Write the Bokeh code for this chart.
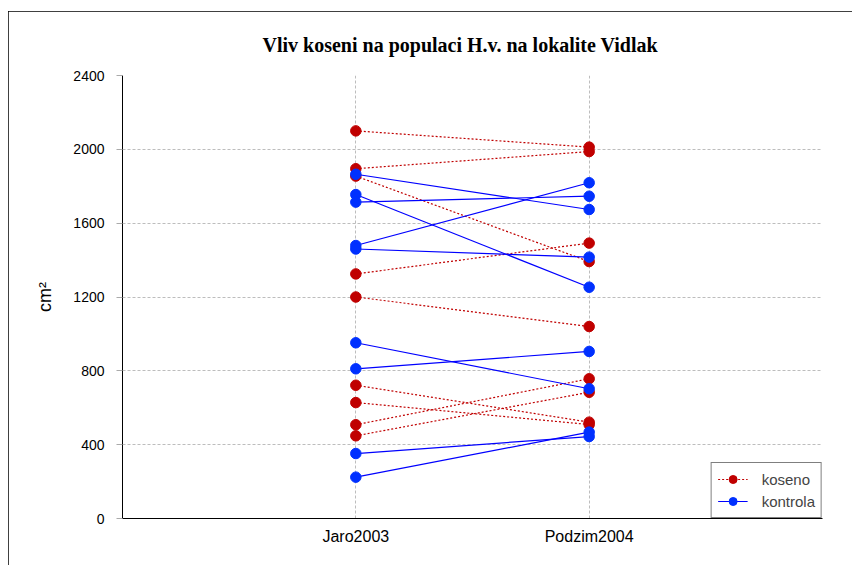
from bokeh.plotting import figure
from bokeh.models import FactorRange, Range1d, FixedTicker, Legend, LegendItem
from bokeh.embed import file_html
from bokeh.resources import INLINE

# ---- data ----
periods = ["Jaro2003", "Podzim2004"]
koseno_jaro = [2100, 1895, 1855, 1325, 1200, 722, 628, 508, 448]
koseno_podzim = [2012, 1988, 1392, 1492, 1040, 522, 509, 757, 684]
kontrola_jaro = [1865, 1755, 1714, 1479, 1460, 952, 811, 352, 224]
kontrola_podzim = [1674, 1253, 1746, 1819, 1416, 703, 905, 444, 468]
y_ticks = [0, 400, 800, 1200, 1600, 2000, 2400]
title_text = "Vliv koseni na populaci H.v. na lokalite Vidlak"
y_label = "cm\u00b2"

RED = "#C00000"
BLUE = "#0000FF"
BLUE_DOT = "#0030FF"
SANS = "Liberation Sans"

p = figure(
    width=844, height=554,
    x_range=FactorRange(factors=periods, range_padding=0.5, range_padding_units="absolute"),
    y_range=Range1d(0, 2400),
    output_backend="svg", toolbar_location=None,
    min_border_left=114, min_border_right=30, min_border_top=64, min_border_bottom=47,
    title=title_text,
    styles={"margin-left": "8px", "margin-top": "11px",
            "outline": "2px solid black", "outline-offset": "-2px"},
)

p.title.align = "left"
p.title.offset = 140
p.title.text_font = "Liberation Serif"
p.title.text_font_style = "bold"
p.title.text_font_size = "20px"
p.title.text_color = "black"
p.title.standoff = 39

p.outline_line_color = None
p.background_fill_color = "white"
p.border_fill_color = "white"

# grids
p.xgrid.grid_line_color = "#bdbdbd"
p.xgrid.grid_line_dash = "3 2"
p.ygrid.grid_line_color = "#bdbdbd"
p.ygrid.grid_line_dash = "3 2"

# axes
p.yaxis.ticker = FixedTicker(ticks=y_ticks)
p.yaxis.axis_label = y_label
p.yaxis.axis_label_text_font = SANS
p.yaxis.axis_label_text_font_style = "normal"
p.yaxis.axis_label_text_font_size = "18px"
p.yaxis.axis_label_text_color = "black"
p.yaxis.axis_label_standoff = 15
for ax in (p.xaxis[0], p.yaxis[0]):
    ax.axis_line_color = "black"
    ax.axis_line_width = 1
    ax.major_tick_line_color = "#aaaaaa"
    ax.major_tick_in = 0
    ax.minor_tick_line_color = None
    ax.major_label_text_font = SANS
    ax.major_label_text_color = "black"
p.yaxis.major_tick_out = 6
p.yaxis.major_label_standoff = 12
p.yaxis.major_label_text_font_size = "14px"
p.xaxis.major_label_text_font_size = "16px"
p.xaxis.major_label_standoff = 9
p.xaxis.major_tick_out = 0

# ---- series ----
n_k = len(koseno_jaro)
k_xs = [[periods[0], periods[1]] for _ in range(n_k)]
k_ys = [[a, b] for a, b in zip(koseno_jaro, koseno_podzim)]
n_c = len(kontrola_jaro)
c_xs = [[periods[0], periods[1]] for _ in range(n_c)]
c_ys = [[a, b] for a, b in zip(kontrola_jaro, kontrola_podzim)]

k_lines = p.multi_line(k_xs, k_ys, line_color=RED, line_width=1.2, line_dash="2 2")
k_dots = p.scatter([periods[0]] * n_k + [periods[1]] * n_k, koseno_jaro + koseno_podzim,
                   size=10.5, fill_color=RED, line_color=RED)
c_lines = p.multi_line(c_xs, c_ys, line_color=BLUE, line_width=1.2)
c_dots = p.scatter([periods[0]] * n_c + [periods[1]] * n_c, kontrola_jaro + kontrola_podzim,
                   size=10.5, fill_color=BLUE_DOT, line_color=BLUE_DOT)

legend = Legend(items=[
    LegendItem(label="koseno", renderers=[k_lines, k_dots]),
    LegendItem(label="kontrola", renderers=[c_lines, c_dots]),
], location="bottom_right")
legend.margin = 0
legend.padding = 6
legend.spacing = 2
legend.label_height = 20
legend.glyph_height = 20
legend.glyph_width = 30
legend.label_standoff = 14
legend.label_text_font = SANS
legend.label_text_font_size = "15px"
legend.border_line_color = "black"
legend.border_line_width = 1
legend.background_fill_alpha = 1
p.add_layout(legend)

open("out.html", "w").write(file_html(p, INLINE))
